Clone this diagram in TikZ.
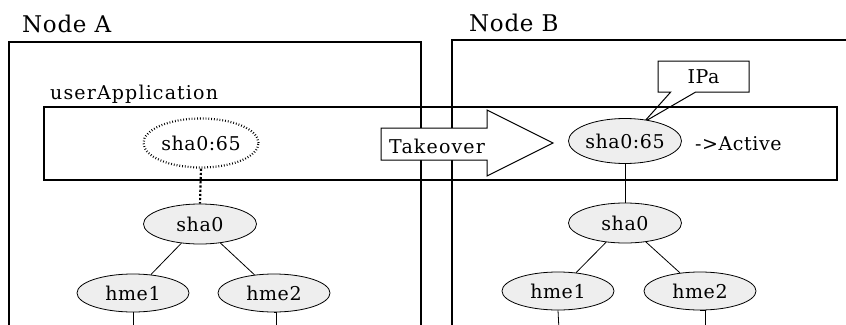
\documentclass[tikz,border=0pt]{standalone}
\usepackage{fontspec}
\newfontfamily\reffont{DejaVu Serif}[LetterSpace=3]
\newfontfamily\widefont{DejaVu Serif}[LetterSpace=6]
\usetikzlibrary{shapes.geometric,shapes.callouts}
\definecolor{nicfill}{RGB}{238,238,238}
\begin{document}
\begin{tikzpicture}[x=1pt,y=-1pt,
  txt/.style={font=\reffont\fontsize{19}{23}\selectfont,inner sep=0pt},
  widetxt/.style={font=\widefont\fontsize{19}{23}\selectfont,inner sep=0pt},
  bigtxt/.style={font=\reffont\fontsize{23}{27}\selectfont,inner sep=0pt},
  boxline/.style={draw,line width=1.2pt},
  nic/.style={ellipse,draw,fill=nicfill,line width=0.8pt,minimum width=113pt,minimum height=40pt,inner sep=0pt,txt},
  link/.style={draw,line width=0.8pt}]
\useasboundingbox (0,0) rectangle (846,324);
\clip (0,0) rectangle (846,324);
% node boxes (open below / to the right)
\draw[boxline] (9,340) rectangle (421,42);
\draw[boxline] (452,340) rectangle (870,40);
\node[bigtxt,anchor=base west] (labA) at (22,32) {Node A};
\node[bigtxt,anchor=base west] (labB) at (469,31) {Node B};
% userApplication
\draw[boxline] (44,107) rectangle (837,180);
\node[widetxt,anchor=base west] (uapp) at (50,99) {userApplication};
% Takeover arrow
\draw[line width=1pt,fill=white] (381,128) -- (487,128) -- (487,110) -- (553,143) -- (487,176) -- (487,160) -- (381,160) -- cycle;
\node[widetxt,anchor=base west] (tko) at (389,153) {Takeover};
% callout
\coordinate (tipc) at (644,122);
\node[rectangle callout,draw,line width=1pt,callout absolute pointer={(tipc)},callout pointer width=25pt,minimum width=91pt,minimum height=31pt,txt] (ipa) at (703.5,76.5) {IPa};
% ellipses
\node[nic,fill=white,dotted,line width=2.2pt,minimum width=115pt,minimum height=49pt] (sA65) at (201,143) {sha0:65};
\node[nic,minimum height=45pt] (sB65) at (625,141) {sha0:65};
\node[txt,anchor=base west] (act) at (695,150) {->Active};
\node[nic] (shaA) at (200,224) {sha0};
\node[nic] (shaB) at (625,223) {sha0};
\node[nic,minimum width=112pt,minimum height=38pt] (h1A) at (133,293) {hme1};
\node[nic,minimum width=112pt,minimum height=38pt] (h2A) at (274,293) {hme2};
\node[nic,minimum width=112pt,minimum height=38pt] (h1B) at (558,291) {hme1};
\node[nic,minimum width=112pt,minimum height=38pt] (h2B) at (700,291) {hme2};
% connectors
\draw[dotted,line width=2.2pt] (sA65.south) -- (shaA.north);
\draw[link] (sB65.south) -- (shaB.north);
\draw[link] (shaA) -- (h1A);
\draw[link] (shaA) -- (h2A);
\draw[link] (shaB) -- (h1B);
\draw[link] (shaB) -- (h2B);
\coordinate (e1A) at (133,330);
\coordinate (e2A) at (276,330);
\coordinate (e1B) at (559,330);
\coordinate (e2B) at (705,330);
\draw[link] (h1A.south) -- (e1A);
\draw[link] (h2A.south) -- (e2A |- h2A.south) -- (e2A);
\draw[link] (h1B.south) -- (e1B);
\draw[link] (h2B.south) -- (e2B |- h2B.south) -- (e2B);
\end{tikzpicture}
\end{document}
